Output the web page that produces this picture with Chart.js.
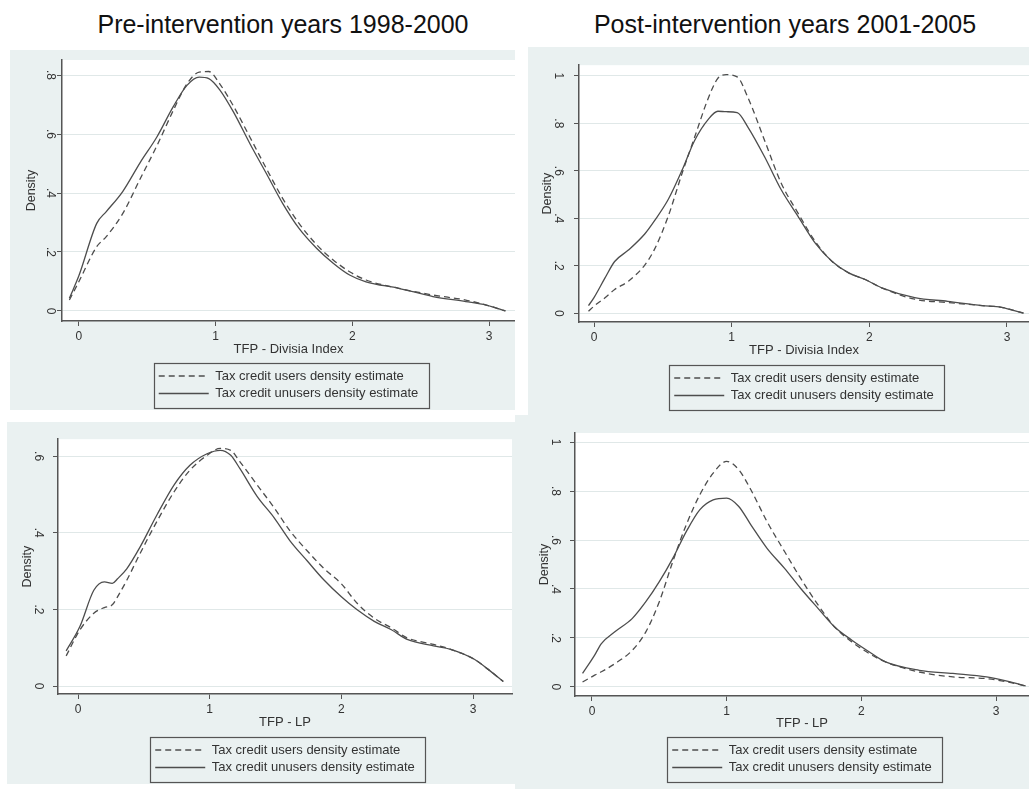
<!DOCTYPE html>
<html>
<head>
<meta charset="utf-8">
<script src="https://cdn.jsdelivr.net/npm/chart.js@4.4.1/dist/chart.umd.min.js"></script>
<style>
  html, body { margin: 0; padding: 0; background: #fff; }
  body { width: 1029px; height: 789px; position: relative; overflow: hidden; font-family: "Liberation Sans", Arial, sans-serif; }
  .title { position: absolute; top: 10px; width: 440px; text-align: center; font-size: 25px; color: #111; white-space: nowrap; }
  .panel { position: absolute; background: #eaf1f1; }
  .panel canvas { display: block; }
</style>
</head>
<body>
<div class="title" id="t0" style="left:63px"></div>
<div class="title" id="t1" style="left:565px"></div>
<div class="panel" style="left:10px;top:50px;width:505px;height:360px"><canvas id="c0" width="505" height="360"></canvas></div>
<div class="panel" style="left:528px;top:47px;width:501px;height:368px"><canvas id="c1" width="501" height="368"></canvas></div>
<div class="panel" style="left:7px;top:422px;width:508px;height:362px"><canvas id="c2" width="508" height="362"></canvas></div>
<div class="panel" style="left:515px;top:415px;width:514px;height:374px"><canvas id="c3" width="514" height="374"></canvas></div>
<script>
const panelTitles = ['Pre-intervention years 1998-2000', 'Post-intervention years 2001-2005'];
const seriesLabels = ['Tax credit users density estimate', 'Tax credit unusers density estimate'];
const xTitles = ['TFP - Divisia Index', 'TFP - Divisia Index', 'TFP - LP', 'TFP - LP'];
const yTitle = 'Density';

const xTickVals = [0, 1, 2, 3];
const xTickLabels = ['0', '1', '2', '3'];
const yTickVals1 = [0, 0.2, 0.4, 0.6, 0.8];
const yTickLabels1 = ['0', '.2', '.4', '.6', '.8'];
const yTickVals2 = [0, 0.2, 0.4, 0.6, 0.8, 1];
const yTickLabels2 = ['0', '.2', '.4', '.6', '.8', '1'];
const yTickVals3 = [0, 0.2, 0.4, 0.6];
const yTickLabels3 = ['0', '.2', '.4', '.6'];

// top left: Divisia, 1998-2000
const x1 = [-0.07, 0, 0.13, 0.2, 0.32, 0.45, 0.57, 0.69, 0.79, 0.88, 0.95, 1.03, 1.13, 1.25, 1.37, 1.49, 1.61, 1.74, 1.86, 1.98, 2.1, 2.34, 2.59, 2.83, 2.98, 3.12];
const users1 = [0.037, 0.10, 0.218, 0.252, 0.33, 0.45, 0.56, 0.68, 0.77, 0.81, 0.812, 0.77, 0.695, 0.59, 0.484, 0.382, 0.297, 0.224, 0.173, 0.133, 0.105, 0.077, 0.054, 0.037, 0.02, 0];
const unusers1 = [0.043, 0.12, 0.297, 0.337, 0.405, 0.505, 0.59, 0.693, 0.765, 0.793, 0.788, 0.75, 0.675, 0.568, 0.467, 0.365, 0.28, 0.212, 0.162, 0.122, 0.099, 0.077, 0.049, 0.032, 0.02, 0];

// top right: Divisia, 2001-2005
const x2 = [-0.04, 0, 0.08, 0.15, 0.25, 0.37, 0.44, 0.54, 0.64, 0.73, 0.83, 0.9, 0.96, 1.04, 1.12, 1.24, 1.36, 1.48, 1.61, 1.73, 1.85, 1.97, 2.09, 2.33, 2.57, 2.82, 2.96, 3.12];
const users2 = [0.008, 0.03, 0.065, 0.10, 0.135, 0.204, 0.27, 0.41, 0.59, 0.74, 0.906, 0.99, 1.005, 0.996, 0.906, 0.727, 0.548, 0.424, 0.30, 0.218, 0.17, 0.142, 0.107, 0.059, 0.045, 0.032, 0.025, 0];
const unusers2 = [0.032, 0.066, 0.149, 0.218, 0.266, 0.335, 0.39, 0.48, 0.603, 0.727, 0.817, 0.851, 0.849, 0.845, 0.782, 0.658, 0.52, 0.41, 0.293, 0.218, 0.17, 0.142, 0.107, 0.066, 0.05, 0.032, 0.025, 0];

// bottom left: LP, 1998-2000
const x3 = [-0.09, 0.015, 0.12, 0.2, 0.26, 0.3, 0.37, 0.47, 0.6, 0.73, 0.85, 0.98, 1.08, 1.16, 1.23, 1.36, 1.49, 1.61, 1.74, 1.87, 2.0, 2.12, 2.25, 2.38, 2.5, 2.7, 2.83, 3.01, 3.11, 3.23];
const users3 = [0.079, 0.147, 0.19, 0.205, 0.212, 0.233, 0.276, 0.345, 0.43, 0.507, 0.563, 0.602, 0.62, 0.615, 0.585, 0.525, 0.465, 0.405, 0.353, 0.306, 0.267, 0.216, 0.177, 0.152, 0.126, 0.109, 0.096, 0.07, 0.045, 0.012];
const unusers3 = [0.092, 0.156, 0.25, 0.272, 0.268, 0.28, 0.306, 0.362, 0.447, 0.525, 0.576, 0.606, 0.615, 0.602, 0.567, 0.495, 0.439, 0.379, 0.327, 0.276, 0.233, 0.199, 0.169, 0.147, 0.122, 0.105, 0.096, 0.07, 0.045, 0.012];

// bottom right: LP, 2001-2005
const x4 = [-0.07, 0.02, 0.07, 0.17, 0.3, 0.4, 0.5, 0.6, 0.7, 0.8, 0.9, 1.0, 1.09, 1.18, 1.3, 1.43, 1.55, 1.68, 1.8, 1.93, 2.06, 2.18, 2.43, 2.68, 2.93, 3.09, 3.22];
const users4 = [0.02, 0.048, 0.062, 0.095, 0.15, 0.225, 0.348, 0.512, 0.662, 0.784, 0.873, 0.921, 0.887, 0.805, 0.675, 0.553, 0.443, 0.334, 0.246, 0.184, 0.136, 0.102, 0.061, 0.041, 0.034, 0.02, 0.004];
const unusers4 = [0.055, 0.13, 0.177, 0.225, 0.28, 0.348, 0.43, 0.525, 0.634, 0.723, 0.764, 0.771, 0.737, 0.662, 0.566, 0.484, 0.402, 0.32, 0.246, 0.191, 0.143, 0.102, 0.068, 0.055, 0.041, 0.023, 0.004];

const LINE = '#4d4d4d';
const AXIS = '#555';
const GRID = '#e0e8e8';
const FONT = '"Liberation Sans", Arial, sans-serif';
Chart.defaults.font.family = FONT;
Chart.defaults.color = '#333';

document.getElementById('t0').textContent = panelTitles[0];
document.getElementById('t1').textContent = panelTitles[1];

// white plot region like Stata's plotregion
const plotBg = {
  id: 'plotBg',
  beforeDraw(chart) {
    const { ctx, chartArea: a } = chart;
    ctx.save();
    ctx.fillStyle = '#fff';
    ctx.fillRect(a.left, a.top, a.right - a.left, a.bottom - a.top);
    ctx.restore();
  },
};

// keep legend rows left aligned as a block centred under the plot, then frame it
const legendFrame = {
  id: 'legendFrame',
  afterLayout(chart) {
    const lg = chart.legend;
    const a = chart.chartArea;
    const pad = lg.options.labels.padding;
    const w = Math.max(...lg.legendHitBoxes.map(h => h.width));
    lg.left = (a.left + a.right) / 2 - w / 2 - pad;
    lg.right = lg.left + w + 2 * pad + 1;
    lg.width = lg.right - lg.left;
  },
  afterDraw(chart) {
    const hb = chart.legend.legendHitBoxes;
    if (!hb.length) return;
    const l = Math.min(...hb.map(h => h.left)) - 5;
    const r = Math.max(...hb.map(h => h.left + h.width)) + 10;
    const t = Math.min(...hb.map(h => h.top)) - 7;
    const b = Math.max(...hb.map(h => h.top + h.height)) + 7;
    const ctx = chart.ctx;
    ctx.save();
    ctx.strokeStyle = AXIS;
    ctx.lineWidth = 1.2;
    ctx.strokeRect(Math.round(l) + 0.5, Math.round(t) + 0.5, Math.round(r - l), Math.round(b - t));
    ctx.restore();
  },
};

// point-style legend items do not carry the line dash, so copy it over
function legendLabels(chart) {
  const items = Chart.defaults.plugins.legend.labels.generateLabels(chart);
  return items.map((item, i) => ({ ...item, lineDash: chart.data.datasets[i].borderDash || [] }));
}

function toPoints(xs, ys) {
  return xs.map((x, i) => ({ x, y: ys[i] }));
}

function makePanel(id, xs, users, unusers, xTitle, yVals, yLabels, box) {
  return new Chart(document.getElementById(id), {
    type: 'line',
    data: {
      datasets: [
        {
          label: seriesLabels[0],
          data: toPoints(xs, users),
          borderColor: LINE,
          borderWidth: 1.3,
          borderDash: [6, 4],
          pointRadius: 0,
          cubicInterpolationMode: 'monotone',
        },
        {
          label: seriesLabels[1],
          data: toPoints(xs, unusers),
          borderColor: LINE,
          borderWidth: 1.3,
          pointRadius: 0,
          cubicInterpolationMode: 'monotone',
        },
      ],
    },
    options: {
      responsive: false,
      animation: false,
      devicePixelRatio: 1,
      layout: { padding: box.pad },
      scales: {
        x: {
          type: 'linear',
          min: box.xMin,
          max: box.xMax,
          afterBuildTicks: (s) => { s.ticks = xTickVals.map(v => ({ value: v })); },
          afterFit: (s) => { s.height = box.xHeight; },
          ticks: {
            font: { size: 12 },
            color: '#333',
            padding: 3,
            maxRotation: 0,
            callback: (v) => xTickLabels[xTickVals.indexOf(v)],
          },
          grid: { drawOnChartArea: false, tickColor: AXIS, tickLength: 5 },
          border: { color: AXIS, width: 1.5 },
          title: { display: true, text: xTitle, font: { size: 13 }, color: '#333', padding: { top: 0, bottom: box.xTitlePad } },
        },
        y: {
          min: box.yMin,
          max: box.yMax,
          afterBuildTicks: (s) => { s.ticks = yVals.map(v => ({ value: v })); },
          afterFit: (s) => { s.width = box.yWidth; },
          ticks: {
            font: { size: 12 },
            color: '#333',
            minRotation: -90,
            maxRotation: -90,
            crossAlign: 'center',
            padding: box.yTickPad,
            callback: (v) => yLabels[yVals.indexOf(v)],
          },
          grid: { color: GRID, tickColor: AXIS, tickLength: 5 },
          border: { color: AXIS, width: 1.5 },
          title: { display: true, text: yTitle, font: { size: 12.5 }, color: '#333', padding: { top: box.yTitlePad, bottom: 0 } },
        },
      },
      plugins: {
        legend: {
          position: 'bottom',
          fullSize: false,
          align: 'start',
          labels: {
            usePointStyle: true,
            pointStyle: 'line',
            pointStyleWidth: 50,
            font: { size: 13 },
            color: '#333',
            padding: 4.5,
            generateLabels: legendLabels,
          },
        },
        tooltip: { enabled: false },
      },
    },
    plugins: [plotBg, legendFrame],
  });
}

makePanel('c0', x1, users1, unusers1, xTitles[0], yTickVals1, yTickLabels1, {
  pad: { top: 10, right: 0, bottom: 0, left: 0 }, xHeight: 44, yWidth: 52, yTickPad: 2, yTitlePad: 14.5, xTitlePad: 8,
  xMin: -0.124, xMax: 3.19, yMin: -0.034, yMax: 0.851,
});
makePanel('c1', x2, users2, unusers2, xTitles[1], yTickVals2, yTickLabels2, {
  pad: { top: 13, right: 0, bottom: 3, left: 0 }, xHeight: 45, yWidth: 51, yTickPad: 11, yTitlePad: 12.5, xTitlePad: 9,
  xMin: -0.109, xMax: 3.16, yMin: -0.037, yMax: 1.045,
});
makePanel('c2', x3, users3, unusers3, xTitles[2], yTickVals3, yTickLabels3, {
  pad: { top: 13, right: 3, bottom: 0, left: 0 }, xHeight: 45, yWidth: 51, yTickPad: 10, yTitlePad: 13.5, xTitlePad: 9,
  xMin: -0.152, xMax: 3.296, yMin: -0.0205, yMax: 0.644,
});
makePanel('c3', x4, users4, unusers4, xTitles[3], yTickVals2, yTickLabels2, {
  pad: { top: 18, right: 0, bottom: 5, left: 0 }, xHeight: 43, yWidth: 60, yTickPad: 10, yTitlePad: 22.5, xTitlePad: 8,
  xMin: -0.126, xMax: 3.245, yMin: -0.037, yMax: 1.037,
});
</script>
</body>
</html>
